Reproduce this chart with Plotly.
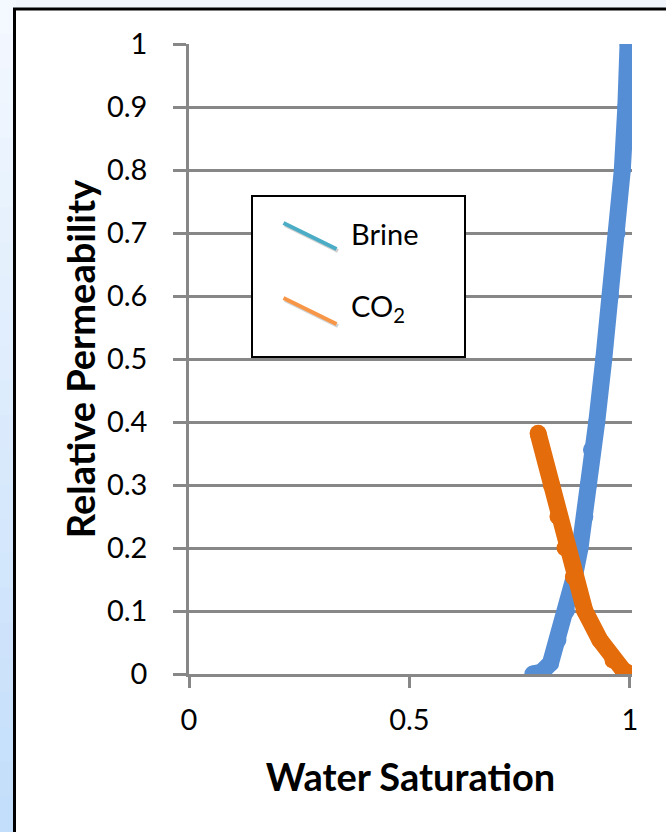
import plotly.graph_objects as go

# ---- data ----
brine_sw = [0.78, 0.80, 0.82, 0.837, 0.856, 0.874, 0.887, 0.898, 0.906, 0.913,
            0.925, 0.941, 0.956, 0.971, 0.983, 0.991, 0.996]
brine_kr = [0.0, 0.003, 0.017, 0.054, 0.10, 0.154, 0.20, 0.25, 0.30, 0.356,
            0.40, 0.50, 0.60, 0.70, 0.80, 0.90, 1.0]
co2_sw = [0.792, 0.822, 0.837, 0.853, 0.872, 0.898, 0.932, 0.962, 0.985, 1.0]
co2_kr = [0.382, 0.30, 0.25, 0.20, 0.154, 0.10, 0.054, 0.022, 0.006, 0.0]

x_ticks = [0, 0.5, 1]
x_tick_text = ["0", "0.5", "1"]
y_ticks = [0, 0.1, 0.2, 0.3, 0.4, 0.5, 0.6, 0.7, 0.8, 0.9, 1]
y_tick_text = ["0", "0.1", "0.2", "0.3", "0.4", "0.5", "0.6", "0.7", "0.8", "0.9", "1"]

series_names = ["Brine", "CO<sub>2</sub>"]
line_colors = ["#558ED5", "#E46C0A"]
legend_colors = ["#4BACC6", "#F79646"]

# ---- layout geometry ----
W, H = 666, 832
L, T = 189, 44
PW, PH = 443, 630
R = W - L - PW
B = H - T - PH

def px(x):
    return (x - L) / PW

def py(y):
    return (T + PH - y) / PH

FONT = "Lato, 'Open Sans', sans-serif"
GRID = "#878787"

fig = go.Figure()
for sw, kr, col, name in [(brine_sw, brine_kr, line_colors[0], series_names[0]),
                          (co2_sw, co2_kr, line_colors[1], series_names[1])]:
    fig.add_trace(go.Scatter(x=sw, y=kr, mode="lines+markers", name=name,
                             line=dict(color=col, width=17),
                             marker=dict(color=col, size=17),
                             showlegend=False))

shapes = []
# left-edge gradient strip
top_c = (245, 249, 255)
bot_c = (194, 221, 250)
nb = 24
for i in range(nb):
    t = (i + 0.5) / nb
    c = tuple(int(round(top_c[k] + (bot_c[k] - top_c[k]) * t)) for k in range(3))
    shapes.append(dict(type="rect", xref="paper", yref="paper", layer="below",
                       x0=px(-2), x1=px(16), y0=py(i * H / nb - 1), y1=py((i + 1) * H / nb + 1),
                       fillcolor="rgb(%d,%d,%d)" % c, line=dict(width=0)))
# white framed panel
shapes.append(dict(type="rect", xref="paper", yref="paper", layer="below",
                   x0=px(14.5), x1=px(700), y0=py(880), y1=py(9),
                   fillcolor="white", line=dict(color="black", width=3)))
# legend box
shapes.append(dict(type="rect", xref="paper", yref="paper", layer="above",
                   x0=px(252), x1=px(465), y0=py(357), y1=py(196),
                   fillcolor="white", line=dict(color="black", width=2)))
leg_rows = [(223, 249), (298, 324)]
for (ya, yb), col in zip(leg_rows, legend_colors):
    shapes.append(dict(type="line", xref="paper", yref="paper", layer="above",
                       x0=px(285), y0=py(ya + 2), x1=px(338), y1=py(yb + 2),
                       line=dict(color="rgba(0,0,0,0.18)", width=4)))
    shapes.append(dict(type="line", xref="paper", yref="paper", layer="above",
                       x0=px(283.5), y0=py(ya), x1=px(336.5), y1=py(yb),
                       line=dict(color=col, width=4)))

annotations = []
for yc, name in zip([233, 308], series_names):
    annotations.append(dict(xref="paper", yref="paper", x=px(349), y=py(yc),
                            xanchor="left", yanchor="middle", showarrow=False,
                            text=name, font=dict(family=FONT, size=29, color="black")))

fig.update_layout(
    width=W, height=H,
    margin=dict(l=L, r=R, t=T, b=B, pad=0),
    paper_bgcolor="#F1F6FD",
    plot_bgcolor="rgba(0,0,0,0)",
    shapes=shapes,
    annotations=annotations,
    font=dict(family=FONT, size=29, color="black"),
)
fig.update_xaxes(range=[0, 1.005], tickvals=x_ticks, ticktext=x_tick_text,
                 showgrid=False, zeroline=False,
                 showline=True, linecolor=GRID, linewidth=2.5,
                 ticks="outside", ticklen=11, tickwidth=2.5, tickcolor=GRID,
                 ticklabelstandoff=7,
                 tickfont=dict(family=FONT, size=29),
                 title=dict(text="<b>Water Saturation</b>", standoff=30,
                            font=dict(family=FONT, size=38)))
fig.update_yaxes(range=[0, 1], tickvals=y_ticks, ticktext=y_tick_text,
                 showgrid=True, gridcolor=GRID, gridwidth=2.5, zeroline=False,
                 showline=True, linecolor=GRID, linewidth=2.5,
                 ticks="outside", ticklen=13, tickwidth=2.5, tickcolor=GRID,
                 ticklabelstandoff=20,
                 tickfont=dict(family=FONT, size=29),
                 title=dict(text="<b>Relative Permeability</b>", standoff=0,
                            font=dict(family=FONT, size=38)))

fig.write_html("out.html", config={"displayModeBar": False},
               post_script="document.body.style.margin='0';document.body.style.overflow='hidden';")
